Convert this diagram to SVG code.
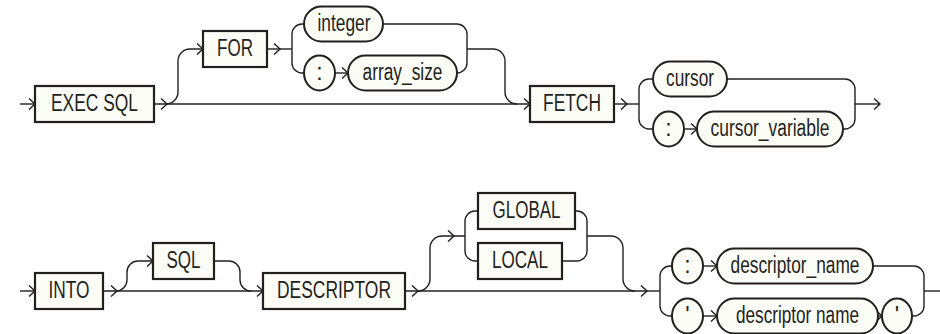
<svg xmlns="http://www.w3.org/2000/svg" xmlns:xlink="http://www.w3.org/1999/xlink" width="940" height="334" viewBox="0 0 940 334">
<style>
.bx{fill:#fdfdf7;stroke:#231f20;stroke-width:2.2}
.ov{fill:#fdfdf7;stroke:#231f20;stroke-width:2}
.ln{fill:none;stroke:#231f20;stroke-width:1.4}
.ah{fill:none;stroke:#231f20;stroke-width:1.4}
text{font-family:"Liberation Sans",Arial,sans-serif;font-size:23px;fill:#231f20;text-anchor:middle}
</style>
<defs>
<path id="ah" class="ah" d="M-6,-5.5 L0,0 L-6,5.5"/>
</defs>
<rect width="940" height="334" fill="#ffffff"/>
<g id="connectors">
<path class="ln" d="M20,104 H35"/>
<path class="ln" d="M154,104 H530"/>
<path class="ln" d="M166,104 A12,12 0 0 0 178,92 V61 A12,12 0 0 1 190,49 H203"/>
<path class="ln" d="M267,49 H292"/>
<path class="ln" d="M304,24 H302 A10,10 0 0 0 292,34 V63 A10,10 0 0 0 302,73 H304"/>
<path class="ln" d="M335,73 H348"/>
<path class="ln" d="M383,24 H457 A10,10 0 0 1 467,34 V63 A10,10 0 0 1 457,73"/>
<path class="ln" d="M467,49 H493 A12,12 0 0 1 505,61 V92 A12,12 0 0 0 517,104"/>
<path class="ln" d="M614,104 H639"/>
<path class="ln" d="M653,79 H649 A10,10 0 0 0 639,89 V119 A10,10 0 0 0 649,129 H653"/>
<path class="ln" d="M684,129 H697"/>
<path class="ln" d="M727,79 H845 A10,10 0 0 1 855,89 V119 A10,10 0 0 1 845,129 H843"/>
<path class="ln" d="M855,104 H880"/>
<path class="ln" d="M20,291 H35"/>
<path class="ln" d="M103,291 H263"/>
<path class="ln" d="M116,291 A11,11 0 0 0 127,280 V272 A11,11 0 0 1 138,261 H153"/>
<path class="ln" d="M214,261 H229 A11,11 0 0 1 240,272 V280 A11,11 0 0 0 251,291"/>
<path class="ln" d="M405,291 H647"/>
<path class="ln" d="M418,291 A12,12 0 0 0 430,279 V248 A12,12 0 0 1 442,236 H465"/>
<path class="ln" d="M478,211 H475 A10,10 0 0 0 465,221 V251 A10,10 0 0 0 475,261 H478"/>
<path class="ln" d="M575,211 H577 A10,10 0 0 1 587,221 V251 A10,10 0 0 1 577,261 H562"/>
<path class="ln" d="M587,236 H611 A12,12 0 0 1 623,248 V279 A12,12 0 0 0 635,291"/>
<path class="ln" d="M647,291 H660"/>
<path class="ln" d="M672,266 H670 A10,10 0 0 0 660,276 V306 A10,10 0 0 0 670,316 H672"/>
<path class="ln" d="M703,266 H717"/>
<path class="ln" d="M703,316 H717"/>
<path class="ln" d="M878,316 H882"/>
<path class="ln" d="M873,266 H914 A10,10 0 0 1 924,276 V306 A10,10 0 0 1 914,316 H912"/>
<path class="ln" d="M924,291 H940"/>
<use xlink:href="#ah" x="35" y="104"/>
<use xlink:href="#ah" x="167" y="104"/>
<use xlink:href="#ah" x="203" y="49"/>
<use xlink:href="#ah" x="280" y="49"/>
<use xlink:href="#ah" x="348" y="73"/>
<use xlink:href="#ah" x="530" y="104"/>
<use xlink:href="#ah" x="627" y="104"/>
<use xlink:href="#ah" x="697" y="129"/>
<use xlink:href="#ah" x="880" y="104"/>
<use xlink:href="#ah" x="35" y="291"/>
<use xlink:href="#ah" x="117" y="291"/>
<use xlink:href="#ah" x="153" y="261"/>
<use xlink:href="#ah" x="263" y="291"/>
<use xlink:href="#ah" x="418" y="291"/>
<use xlink:href="#ah" x="454" y="236"/>
<use xlink:href="#ah" x="647" y="291"/>
<use xlink:href="#ah" x="717" y="266"/>
<use xlink:href="#ah" x="717" y="316"/>
<use xlink:href="#ah" x="882" y="316"/>
</g>
<g id="exec-sql"><rect class="bx" x="35" y="86" width="119" height="36"/><text x="94.5" y="111" textLength="87" lengthAdjust="spacingAndGlyphs">EXEC SQL</text></g>
<g id="for"><rect class="bx" x="203" y="31" width="64" height="36"/><text x="235" y="56" textLength="36" lengthAdjust="spacingAndGlyphs">FOR</text></g>
<g id="integer"><rect class="ov" x="304" y="6.5" width="79" height="35" rx="17.5"/><text x="344" y="31" textLength="53" lengthAdjust="spacingAndGlyphs">integer</text></g>
<g id="colon1"><rect class="ov" x="304" y="55.5" width="31" height="35" rx="15.5" ry="17.5"/><text x="319.5" y="80">:</text></g>
<g id="array-size"><rect class="ov" x="348" y="55.5" width="109" height="35" rx="17.5"/><text x="402.5" y="80" textLength="80" lengthAdjust="spacingAndGlyphs">array_size</text></g>
<g id="fetch"><rect class="bx" x="530" y="86" width="84" height="36"/><text x="572" y="111" textLength="58" lengthAdjust="spacingAndGlyphs">FETCH</text></g>
<g id="cursor"><rect class="ov" x="653" y="61.5" width="74" height="35" rx="17.5"/><text x="690" y="86" textLength="48" lengthAdjust="spacingAndGlyphs">cursor</text></g>
<g id="colon2"><rect class="ov" x="653" y="111.5" width="31" height="35" rx="15.5" ry="17.5"/><text x="668.5" y="136">:</text></g>
<g id="cursor-variable"><rect class="ov" x="697" y="111.5" width="146" height="35" rx="17.5"/><text x="770" y="136" textLength="119" lengthAdjust="spacingAndGlyphs">cursor_variable</text></g>
<g id="into"><rect class="bx" x="35" y="273" width="68" height="36"/><text x="69" y="298" textLength="41" lengthAdjust="spacingAndGlyphs">INTO</text></g>
<g id="sql"><rect class="bx" x="153" y="243" width="61" height="36"/><text x="183.5" y="268" textLength="34" lengthAdjust="spacingAndGlyphs">SQL</text></g>
<g id="descriptor"><rect class="bx" x="263" y="273" width="142" height="36"/><text x="334" y="298" textLength="114" lengthAdjust="spacingAndGlyphs">DESCRIPTOR</text></g>
<g id="global"><rect class="bx" x="478" y="193" width="97" height="36"/><text x="526.5" y="218" textLength="68" lengthAdjust="spacingAndGlyphs">GLOBAL</text></g>
<g id="local"><rect class="bx" x="478" y="243" width="84" height="36"/><text x="520" y="268" textLength="56" lengthAdjust="spacingAndGlyphs">LOCAL</text></g>
<g id="colon3"><rect class="ov" x="672" y="248.5" width="31" height="35" rx="15.5" ry="17.5"/><text x="687.5" y="273">:</text></g>
<g id="descriptor-name-var"><rect class="ov" x="717" y="248.5" width="156" height="35" rx="17.5"/><text x="795" y="273" textLength="129" lengthAdjust="spacingAndGlyphs">descriptor_name</text></g>
<g id="quote1"><rect class="ov" x="672" y="298.5" width="31" height="35" rx="15.5" ry="17.5"/><text x="687.5" y="323">'</text></g>
<g id="descriptor-name-lit"><rect class="ov" x="717" y="298.5" width="161" height="35" rx="17.5"/><text x="797.5" y="323" textLength="123" lengthAdjust="spacingAndGlyphs">descriptor name</text></g>
<g id="quote2"><rect class="ov" x="882" y="298.5" width="30" height="35" rx="15" ry="17.5"/><text x="897" y="323">'</text></g>
</svg>
